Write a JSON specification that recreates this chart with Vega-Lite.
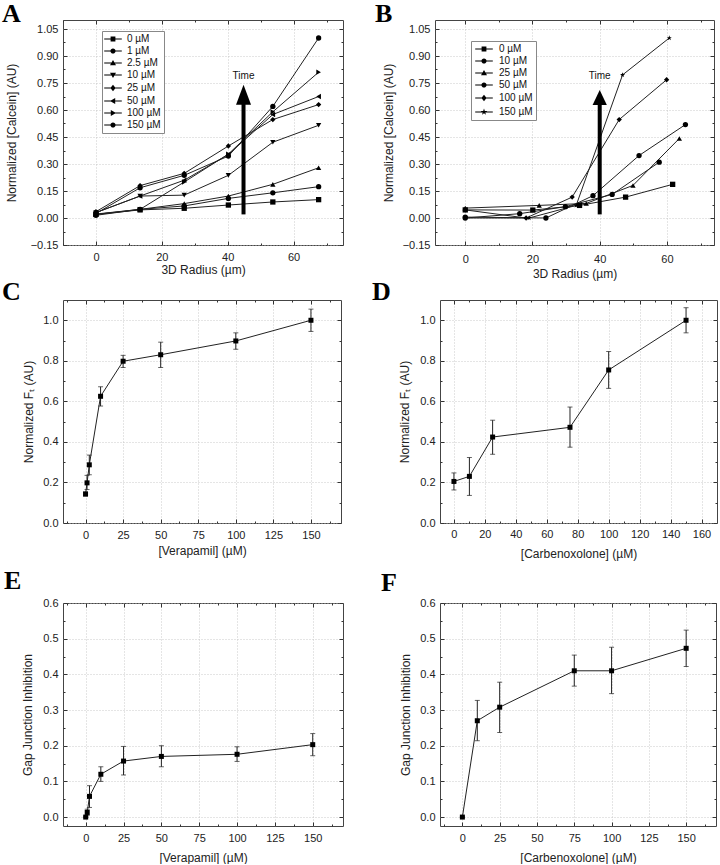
{
"$schema": "https://vega.github.io/schema/vega-lite/v6.json",
"padding": {"left": 1, "top": 0, "right": 2, "bottom": 0},
"background": "white",
"config": {
  "font": "Liberation Sans",
  "view": {"stroke": "#444", "strokeWidth": 1},
  "axis": {"labelFont": "Liberation Sans", "labelFontSize": 11, "labelColor": "#222", "titleFont": "Liberation Sans", "titleFontSize": 12, "titleFontWeight": "normal", "titleColor": "#222", "tickColor": "#333", "tickSize": -4, "tickWidth": 1, "domain": false, "grid": true, "gridColor": "#bdbdbd", "gridDash": [1, 2], "gridWidth": 0.8, "labelFlush": false, "labelOverlap": false, "labelPadding": 9},
  "axisX": {"labelPadding": 10, "titlePadding": 4},
  "axisY": {"titlePadding": 8},
  "legend": {"labelFont": "Liberation Sans", "labelFontSize": 10, "labelColor": "#111", "symbolSize": 64, "symbolStrokeWidth": 1, "symbolStrokeColor": "#000", "symbolFillColor": "#000", "strokeColor": "#888", "fillColor": "#fff", "padding": 3, "rowPadding": 2, "labelOffset": 9, "symbolOffset": 3, "cornerRadius": 0},
  "title": {"font": "Liberation Serif", "fontSize": 26, "fontWeight": "bold", "color": "#000", "anchor": "start", "frame": "group", "baseline": "alphabetic", "offset": 0}
},
"datasets": {
  "A": [
    {"conc": "0 µM", "r": 0, "v": 0.02}, {"conc": "0 µM", "r": 13.4, "v": 0.045}, {"conc": "0 µM", "r": 26.8, "v": 0.054}, {"conc": "0 µM", "r": 40.2, "v": 0.072}, {"conc": "0 µM", "r": 53.7, "v": 0.089}, {"conc": "0 µM", "r": 67.6, "v": 0.102},
    {"conc": "1 µM", "r": 0, "v": 0.015}, {"conc": "1 µM", "r": 13.4, "v": 0.048}, {"conc": "1 µM", "r": 26.8, "v": 0.067}, {"conc": "1 µM", "r": 40.2, "v": 0.109}, {"conc": "1 µM", "r": 53.7, "v": 0.14}, {"conc": "1 µM", "r": 67.6, "v": 0.174},
    {"conc": "2.5 µM", "r": 0, "v": 0.022}, {"conc": "2.5 µM", "r": 13.4, "v": 0.048}, {"conc": "2.5 µM", "r": 26.8, "v": 0.08}, {"conc": "2.5 µM", "r": 40.2, "v": 0.122}, {"conc": "2.5 µM", "r": 53.7, "v": 0.187}, {"conc": "2.5 µM", "r": 67.6, "v": 0.279},
    {"conc": "10 µM", "r": 0, "v": 0.03}, {"conc": "10 µM", "r": 13.4, "v": 0.122}, {"conc": "10 µM", "r": 26.8, "v": 0.127}, {"conc": "10 µM", "r": 40.2, "v": 0.237}, {"conc": "10 µM", "r": 53.7, "v": 0.421}, {"conc": "10 µM", "r": 67.6, "v": 0.515},
    {"conc": "25 µM", "r": 0, "v": 0.035}, {"conc": "25 µM", "r": 13.4, "v": 0.18}, {"conc": "25 µM", "r": 26.8, "v": 0.248}, {"conc": "25 µM", "r": 40.2, "v": 0.4}, {"conc": "25 µM", "r": 53.7, "v": 0.547}, {"conc": "25 µM", "r": 67.6, "v": 0.63},
    {"conc": "50 µM", "r": 0, "v": 0.03}, {"conc": "50 µM", "r": 13.4, "v": 0.122}, {"conc": "50 µM", "r": 26.8, "v": 0.21}, {"conc": "50 µM", "r": 40.2, "v": 0.353}, {"conc": "50 µM", "r": 53.7, "v": 0.575}, {"conc": "50 µM", "r": 67.6, "v": 0.675},
    {"conc": "100 µM", "r": 0, "v": 0.02}, {"conc": "100 µM", "r": 13.4, "v": 0.048}, {"conc": "100 µM", "r": 26.8, "v": 0.2}, {"conc": "100 µM", "r": 40.2, "v": 0.355}, {"conc": "100 µM", "r": 53.7, "v": 0.59}, {"conc": "100 µM", "r": 67.6, "v": 0.81},
    {"conc": "150 µM", "r": 0, "v": 0.025}, {"conc": "150 µM", "r": 13.4, "v": 0.168}, {"conc": "150 µM", "r": 26.8, "v": 0.237}, {"conc": "150 µM", "r": 40.2, "v": 0.344}, {"conc": "150 µM", "r": 53.7, "v": 0.62}, {"conc": "150 µM", "r": 67.6, "v": 1.0}
  ],
  "B": [
    {"conc": "0 µM", "r": 0, "v": 0.045}, {"conc": "0 µM", "r": 20.1, "v": 0.044}, {"conc": "0 µM", "r": 34, "v": 0.07}, {"conc": "0 µM", "r": 47.7, "v": 0.116}, {"conc": "0 µM", "r": 61.7, "v": 0.187},
    {"conc": "10 µM", "r": 0, "v": 0.0}, {"conc": "10 µM", "r": 16.2, "v": 0.024}, {"conc": "10 µM", "r": 29.8, "v": 0.063}, {"conc": "10 µM", "r": 43.7, "v": 0.131}, {"conc": "10 µM", "r": 57.7, "v": 0.31},
    {"conc": "25 µM", "r": 0, "v": 0.055}, {"conc": "25 µM", "r": 22, "v": 0.07}, {"conc": "25 µM", "r": 36, "v": 0.081}, {"conc": "25 µM", "r": 49.9, "v": 0.181}, {"conc": "25 µM", "r": 63.7, "v": 0.442},
    {"conc": "50 µM", "r": 0, "v": 0.005}, {"conc": "50 µM", "r": 24, "v": 0.0}, {"conc": "50 µM", "r": 38, "v": 0.124}, {"conc": "50 µM", "r": 51.7, "v": 0.347}, {"conc": "50 µM", "r": 65.5, "v": 0.519},
    {"conc": "100 µM", "r": 0, "v": 0.045}, {"conc": "100 µM", "r": 18.1, "v": 0.0}, {"conc": "100 µM", "r": 31.8, "v": 0.116}, {"conc": "100 µM", "r": 45.8, "v": 0.547}, {"conc": "100 µM", "r": 59.9, "v": 0.768},
    {"conc": "150 µM", "r": 0, "v": 0.0}, {"conc": "150 µM", "r": 19, "v": 0.0}, {"conc": "150 µM", "r": 33, "v": 0.07}, {"conc": "150 µM", "r": 46.8, "v": 0.795}, {"conc": "150 µM", "r": 60.7, "v": 1.0}
  ],
  "C": [
    {"c": 0, "v": 0.143, "lo": 0.133, "hi": 0.153}, {"c": 1, "v": 0.198, "lo": 0.165, "hi": 0.235}, {"c": 2.5, "v": 0.287, "lo": 0.238, "hi": 0.335}, {"c": 10, "v": 0.625, "lo": 0.577, "hi": 0.672},
    {"c": 25, "v": 0.798, "lo": 0.767, "hi": 0.827}, {"c": 50, "v": 0.83, "lo": 0.767, "hi": 0.892}, {"c": 100, "v": 0.898, "lo": 0.857, "hi": 0.938}, {"c": 150, "v": 1.0, "lo": 0.945, "hi": 1.055}
  ],
  "D": [
    {"c": 0, "v": 0.205, "lo": 0.163, "hi": 0.247}, {"c": 10, "v": 0.23, "lo": 0.136, "hi": 0.323}, {"c": 25, "v": 0.424, "lo": 0.339, "hi": 0.507},
    {"c": 75, "v": 0.472, "lo": 0.374, "hi": 0.572}, {"c": 100, "v": 0.755, "lo": 0.664, "hi": 0.846}, {"c": 150, "v": 1.0, "lo": 0.938, "hi": 1.062}
  ],
  "E": [
    {"c": 0, "v": 0.0, "lo": 0.0, "hi": 0.0}, {"c": 1, "v": 0.013, "lo": 0.005, "hi": 0.022}, {"c": 2.5, "v": 0.058, "lo": 0.027, "hi": 0.088}, {"c": 10, "v": 0.12, "lo": 0.1, "hi": 0.141},
    {"c": 25, "v": 0.157, "lo": 0.118, "hi": 0.198}, {"c": 50, "v": 0.17, "lo": 0.141, "hi": 0.2}, {"c": 100, "v": 0.176, "lo": 0.156, "hi": 0.197}, {"c": 150, "v": 0.203, "lo": 0.172, "hi": 0.234}
  ],
  "F": [
    {"c": 0, "v": 0.0, "lo": 0.0, "hi": 0.0}, {"c": 10, "v": 0.27, "lo": 0.214, "hi": 0.327}, {"c": 25, "v": 0.308, "lo": 0.237, "hi": 0.378},
    {"c": 75, "v": 0.41, "lo": 0.367, "hi": 0.454}, {"c": 100, "v": 0.41, "lo": 0.346, "hi": 0.476}, {"c": 150, "v": 0.473, "lo": 0.422, "hi": 0.524}
  ],
  "arrA": [{"x": 44.8, "y0": 0.02, "y1": 0.64, "yh": 0.685, "yt": 0.787, "label": "Time"}],
  "arrB": [{"x": 40.0, "y0": 0.02, "y1": 0.64, "yh": 0.67, "yt": 0.787, "label": "Time"}]
},
"spacing": -2,
"resolve": {"scale": {"shape": "independent"}, "legend": {"shape": "independent"}},
"vconcat": [
 {"hconcat": [
  {
   "title": {"text": "A", "dx": -61, "offset": -7},
   "width": 280, "height": 225,
   "data": {"name": "A"},
   "resolve": {"axis": {"x": "independent", "y": "independent"}, "scale": {"shape": "independent"}},
   "layer": [
    {"mark": {"type": "line", "color": "#222", "strokeWidth": 1},
     "encoding": {
      "x": {"field": "r", "type": "quantitative", "scale": {"domain": [-10, 75], "nice": false, "zero": false}, "axis": {"title": "3D Radius (µm)", "values": [0, 20, 40, 60], "format": "d", "labelPadding": 10, "titlePadding": 2}},
      "y": {"field": "v", "type": "quantitative", "scale": {"domain": [-0.15, 1.1], "nice": false, "zero": false}, "axis": {"title": "Normalized [Calcein] (AU)", "values": [-0.15, 0, 0.15, 0.3, 0.45, 0.6, 0.75, 0.9, 1.05], "format": ".2f", "titlePadding": 12}},
      "detail": {"field": "conc", "type": "nominal"}}},
    {"mark": {"type": "point", "filled": true, "color": "#000", "size": 28, "opacity": 1},
     "encoding": {
      "x": {"field": "r", "type": "quantitative", "axis": null},
      "y": {"field": "v", "type": "quantitative", "axis": null},
      "shape": {"field": "conc", "type": "nominal", "scale": {"domain": ["0 µM", "1 µM", "2.5 µM", "10 µM", "25 µM", "50 µM", "100 µM", "150 µM"], "range": ["square", "circle", "triangle-up", "triangle-down", "diamond", "triangle-left", "triangle-right", "circle"]}, "legend": null}}},
    {"transform": [{"filter": "false"}],
     "mark": {"type": "point", "filled": true, "fill": "#000", "stroke": "#000", "strokeWidth": 1, "opacity": 1},
     "encoding": {
      "x": {"field": "r", "type": "quantitative", "axis": null},
      "y": {"field": "v", "type": "quantitative", "axis": null},
      "shape": {"field": "conc", "type": "nominal", "scale": {"domain": ["0 µM", "1 µM", "2.5 µM", "10 µM", "25 µM", "50 µM", "100 µM", "150 µM"], "range": [
        "M-2.2,-0.13L2.2,-0.13L2.2,0.13L-2.2,0.13ZM-0.6,-0.6L0.6,-0.6L0.6,0.6L-0.6,0.6Z",
        "M-2.2,-0.13L2.2,-0.13L2.2,0.13L-2.2,0.13ZM-0.65,0A0.65,0.65,0,1,1,0.65,0A0.65,0.65,0,1,1,-0.65,0Z",
        "M-2.2,-0.13L2.2,-0.13L2.2,0.13L-2.2,0.13ZM0,-0.75L0.75,0.55L-0.75,0.55Z",
        "M-2.2,-0.13L2.2,-0.13L2.2,0.13L-2.2,0.13ZM0,0.75L-0.75,-0.55L0.75,-0.55Z",
        "M-2.2,-0.13L2.2,-0.13L2.2,0.13L-2.2,0.13ZM0,-0.8L0.65,0L0,0.8L-0.65,0Z",
        "M-2.2,-0.13L2.2,-0.13L2.2,0.13L-2.2,0.13ZM-0.75,0L0.55,-0.75L0.55,0.75Z",
        "M-2.2,-0.13L2.2,-0.13L2.2,0.13L-2.2,0.13ZM0.75,0L-0.55,0.75L-0.55,-0.75Z",
        "M-2.2,-0.13L2.2,-0.13L2.2,0.13L-2.2,0.13ZM-0.65,0A0.65,0.65,0,1,1,0.65,0A0.65,0.65,0,1,1,-0.65,0Z"]},
       "legend": {"orient": "none", "legendX": 39, "legendY": 11, "title": null, "labelOffset": 9, "symbolOffset": 3}}}},
    {"mark": {"type": "point", "opacity": 0},
     "encoding": {
      "x": {"field": "r", "type": "quantitative", "axis": {"orient": "bottom", "values": [-10, 10, 30, 50, 70], "labels": false, "tickSize": -2, "grid": false, "title": null, "minExtent": 0, "maxExtent": 0}},
      "y": {"field": "v", "type": "quantitative", "axis": {"orient": "left", "values": [-0.075, 0.075, 0.225, 0.375, 0.525, 0.675, 0.825, 0.975], "labels": false, "tickSize": -2, "grid": false, "title": null, "minExtent": 0, "maxExtent": 0}}}},
    {"mark": {"type": "point", "opacity": 0},
     "encoding": {
      "x": {"field": "r", "type": "quantitative", "axis": {"orient": "top", "values": [0, 20, 40, 60], "labels": false, "grid": false, "title": null, "minExtent": 0, "maxExtent": 0}},
      "y": {"field": "v", "type": "quantitative", "axis": {"orient": "right", "values": [-0.15, 0, 0.15, 0.3, 0.45, 0.6, 0.75, 0.9, 1.05], "labels": false, "grid": false, "title": null, "minExtent": 0, "maxExtent": 0}}}},
    {"mark": {"type": "point", "opacity": 0},
     "encoding": {
      "x": {"field": "r", "type": "quantitative", "axis": {"orient": "top", "values": [-10, 10, 30, 50, 70], "labels": false, "tickSize": -2, "grid": false, "title": null, "minExtent": 0, "maxExtent": 0}},
      "y": {"field": "v", "type": "quantitative", "axis": {"orient": "right", "values": [-0.075, 0.075, 0.225, 0.375, 0.525, 0.675, 0.825, 0.975], "labels": false, "tickSize": -2, "grid": false, "title": null, "minExtent": 0, "maxExtent": 0}}}},
    {"data": {"name": "arrA"}, "mark": {"type": "rule", "color": "#000", "strokeWidth": 4},
     "encoding": {"x": {"field": "x", "type": "quantitative", "axis": null}, "y": {"field": "y0", "type": "quantitative", "axis": null}, "y2": {"field": "y1"}}},
    {"data": {"name": "arrA"}, "mark": {"type": "point", "shape": "M-0.75,1L0,-1L0.75,1Z", "size": 400, "filled": true, "color": "#000", "opacity": 1},
     "encoding": {"x": {"field": "x", "type": "quantitative", "axis": null}, "y": {"field": "yh", "type": "quantitative", "axis": null}}},
    {"data": {"name": "arrA"}, "mark": {"type": "text", "font": "Liberation Sans", "fontSize": 10, "color": "#111", "baseline": "middle", "align": "center"},
     "encoding": {"x": {"field": "x", "type": "quantitative", "axis": null}, "y": {"field": "yt", "type": "quantitative", "axis": null}, "text": {"field": "label"}}}
   ]
  },
  {
   "title": {"text": "B", "dx": -60, "offset": -7},
   "width": 279, "height": 225,
   "data": {"name": "B"},
   "resolve": {"axis": {"x": "independent", "y": "independent"}, "scale": {"shape": "independent"}},
   "layer": [
    {"mark": {"type": "line", "color": "#222", "strokeWidth": 1},
     "encoding": {
      "x": {"field": "r", "type": "quantitative", "scale": {"domain": [-9, 74], "nice": false, "zero": false}, "axis": {"title": "3D Radius (µm)", "values": [0, 20, 40, 60], "format": "d", "labelPadding": 12, "titlePadding": 4}},
      "y": {"field": "v", "type": "quantitative", "scale": {"domain": [-0.15, 1.1], "nice": false, "zero": false}, "axis": {"title": "Normalized [Calcein] (AU)", "values": [-0.15, 0, 0.15, 0.3, 0.45, 0.6, 0.75, 0.9, 1.05], "format": ".2f", "titlePadding": 7}},
      "detail": {"field": "conc", "type": "nominal"}}},
    {"mark": {"type": "point", "filled": true, "color": "#000", "size": 28, "opacity": 1},
     "encoding": {
      "x": {"field": "r", "type": "quantitative", "axis": null},
      "y": {"field": "v", "type": "quantitative", "axis": null},
      "shape": {"field": "conc", "type": "nominal", "scale": {"domain": ["0 µM", "10 µM", "25 µM", "50 µM", "100 µM", "150 µM"], "range": ["square", "circle", "triangle-up", "circle", "diamond", "M0,-1L0.235,-0.324L0.951,-0.309L0.38,0.124L0.588,0.809L0,0.4L-0.588,0.809L-0.38,0.124L-0.951,-0.309L-0.235,-0.324Z"]}, "legend": null}}},
    {"transform": [{"filter": "false"}],
     "mark": {"type": "point", "filled": true, "fill": "#000", "stroke": "#000", "strokeWidth": 1, "opacity": 1},
     "encoding": {
      "x": {"field": "r", "type": "quantitative", "axis": null},
      "y": {"field": "v", "type": "quantitative", "axis": null},
      "shape": {"field": "conc", "type": "nominal", "scale": {"domain": ["0 µM", "10 µM", "25 µM", "50 µM", "100 µM", "150 µM"], "range": [
        "M-2.2,-0.13L2.2,-0.13L2.2,0.13L-2.2,0.13ZM-0.6,-0.6L0.6,-0.6L0.6,0.6L-0.6,0.6Z",
        "M-2.2,-0.13L2.2,-0.13L2.2,0.13L-2.2,0.13ZM-0.65,0A0.65,0.65,0,1,1,0.65,0A0.65,0.65,0,1,1,-0.65,0Z",
        "M-2.2,-0.13L2.2,-0.13L2.2,0.13L-2.2,0.13ZM0,-0.75L0.75,0.55L-0.75,0.55Z",
        "M-2.2,-0.13L2.2,-0.13L2.2,0.13L-2.2,0.13ZM-0.65,0A0.65,0.65,0,1,1,0.65,0A0.65,0.65,0,1,1,-0.65,0Z",
        "M-2.2,-0.13L2.2,-0.13L2.2,0.13L-2.2,0.13ZM0,-0.8L0.65,0L0,0.8L-0.65,0Z",
        "M-2.2,-0.13L2.2,-0.13L2.2,0.13L-2.2,0.13ZM0,-0.85L0.2,-0.28L0.81,-0.26L0.32,0.11L0.5,0.69L0,0.34L-0.5,0.69L-0.32,0.11L-0.81,-0.26L-0.2,-0.28Z"]},
       "legend": {"orient": "none", "legendX": 36, "legendY": 21, "title": null, "labelOffset": 10, "symbolOffset": 5}}}},
    {"mark": {"type": "point", "opacity": 0},
     "encoding": {
      "x": {"field": "r", "type": "quantitative", "axis": {"orient": "bottom", "values": [10, 30, 50, 70], "labels": false, "tickSize": -2, "grid": false, "title": null, "minExtent": 0, "maxExtent": 0}},
      "y": {"field": "v", "type": "quantitative", "axis": {"orient": "left", "values": [-0.075, 0.075, 0.225, 0.375, 0.525, 0.675, 0.825, 0.975], "labels": false, "tickSize": -2, "grid": false, "title": null, "minExtent": 0, "maxExtent": 0}}}},
    {"mark": {"type": "point", "opacity": 0},
     "encoding": {
      "x": {"field": "r", "type": "quantitative", "axis": {"orient": "top", "values": [0, 20, 40, 60], "labels": false, "grid": false, "title": null, "minExtent": 0, "maxExtent": 0}},
      "y": {"field": "v", "type": "quantitative", "axis": {"orient": "right", "values": [-0.15, 0, 0.15, 0.3, 0.45, 0.6, 0.75, 0.9, 1.05], "labels": false, "grid": false, "title": null, "minExtent": 0, "maxExtent": 0}}}},
    {"mark": {"type": "point", "opacity": 0},
     "encoding": {
      "x": {"field": "r", "type": "quantitative", "axis": {"orient": "top", "values": [10, 30, 50, 70], "labels": false, "tickSize": -2, "grid": false, "title": null, "minExtent": 0, "maxExtent": 0}},
      "y": {"field": "v", "type": "quantitative", "axis": {"orient": "right", "values": [-0.075, 0.075, 0.225, 0.375, 0.525, 0.675, 0.825, 0.975], "labels": false, "tickSize": -2, "grid": false, "title": null, "minExtent": 0, "maxExtent": 0}}}},
    {"data": {"name": "arrB"}, "mark": {"type": "rule", "color": "#000", "strokeWidth": 4},
     "encoding": {"x": {"field": "x", "type": "quantitative", "axis": null}, "y": {"field": "y0", "type": "quantitative", "axis": null}, "y2": {"field": "y1"}}},
    {"data": {"name": "arrB"}, "mark": {"type": "point", "shape": "M-0.95,1L0,-1L0.95,1Z", "size": 225, "filled": true, "color": "#000", "opacity": 1},
     "encoding": {"x": {"field": "x", "type": "quantitative", "axis": null}, "y": {"field": "yh", "type": "quantitative", "axis": null}}},
    {"data": {"name": "arrB"}, "mark": {"type": "text", "font": "Liberation Sans", "fontSize": 10, "color": "#111", "baseline": "middle", "align": "center"},
     "encoding": {"x": {"field": "x", "type": "quantitative", "axis": null}, "y": {"field": "yt", "type": "quantitative", "axis": null}, "text": {"field": "label"}}}
   ]
  }
 ], "spacing": 30, "resolve": {"scale": {"shape": "independent"}, "legend": {"shape": "independent"}}},
 {"hconcat": [
  {
   "title": {"text": "C", "dx": -61, "offset": -5},
   "width": 278, "height": 223,
   "data": {"name": "C"},
   "resolve": {"axis": {"x": "independent", "y": "independent"}},
   "layer": [
    {"mark": {"type": "line", "color": "#222", "strokeWidth": 1},
     "encoding": {
      "x": {"field": "c", "type": "quantitative", "scale": {"domain": [-15, 170], "nice": false, "zero": false}, "axis": {"title": ["[Verapamil] (µM)", ""], "titleLineHeight": 9, "values": [0, 25, 50, 75, 100, 125, 150], "format": "d", "labelPadding": 10, "titlePadding": 5}},
      "y": {"field": "v", "type": "quantitative", "scale": {"domain": [0, 1.1], "nice": false, "zero": false}, "axis": {"title": "Normalized Fₜ (AU)", "values": [0, 0.2, 0.4, 0.6, 0.8, 1.0], "format": ".1f", "titlePadding": 7}}}},
    {"mark": {"type": "errorbar", "color": "#222", "thickness": 1, "ticks": {"size": 5, "thickness": 1}},
     "encoding": {"x": {"field": "c", "type": "quantitative", "axis": null}, "y": {"field": "lo", "type": "quantitative", "axis": null}, "y2": {"field": "hi"}}},
    {"mark": {"type": "square", "color": "#000", "size": 25, "opacity": 1},
     "encoding": {"x": {"field": "c", "type": "quantitative", "axis": null}, "y": {"field": "v", "type": "quantitative", "axis": null}}},
    {"mark": {"type": "point", "opacity": 0},
     "encoding": {
      "x": {"field": "c", "type": "quantitative", "axis": {"orient": "bottom", "values": [-12.5, 12.5, 37.5, 62.5, 87.5, 112.5, 137.5, 162.5], "labels": false, "tickSize": -2, "grid": false, "title": null, "minExtent": 0, "maxExtent": 0}},
      "y": {"field": "v", "type": "quantitative", "axis": {"orient": "left", "values": [0.1, 0.3, 0.5, 0.7, 0.9], "labels": false, "tickSize": -2, "grid": false, "title": null, "minExtent": 0, "maxExtent": 0}}}},
    {"mark": {"type": "point", "opacity": 0},
     "encoding": {
      "x": {"field": "c", "type": "quantitative", "axis": {"orient": "top", "values": [0, 25, 50, 75, 100, 125, 150], "labels": false, "grid": false, "title": null, "minExtent": 0, "maxExtent": 0}},
      "y": {"field": "v", "type": "quantitative", "axis": {"orient": "right", "values": [0, 0.2, 0.4, 0.6, 0.8, 1.0], "labels": false, "grid": false, "title": null, "minExtent": 0, "maxExtent": 0}}}},
    {"mark": {"type": "point", "opacity": 0},
     "encoding": {
      "x": {"field": "c", "type": "quantitative", "axis": {"orient": "top", "values": [-12.5, 12.5, 37.5, 62.5, 87.5, 112.5, 137.5, 162.5], "labels": false, "tickSize": -2, "grid": false, "title": null, "minExtent": 0, "maxExtent": 0}},
      "y": {"field": "v", "type": "quantitative", "axis": {"orient": "right", "values": [0.1, 0.3, 0.5, 0.7, 0.9], "labels": false, "tickSize": -2, "grid": false, "title": null, "minExtent": 0, "maxExtent": 0}}}}
   ]
  },
  {
   "title": {"text": "D", "dx": -68, "offset": -5},
   "width": 277, "height": 223,
   "data": {"name": "D"},
   "resolve": {"axis": {"x": "independent", "y": "independent"}},
   "layer": [
    {"mark": {"type": "line", "color": "#222", "strokeWidth": 1},
     "encoding": {
      "x": {"field": "c", "type": "quantitative", "scale": {"domain": [-9, 170], "nice": false, "zero": false}, "axis": {"title": ["[Carbenoxolone] (µM)", ""], "titleLineHeight": 9, "values": [0, 20, 40, 60, 80, 100, 120, 140, 160], "format": "d", "labelPadding": 9, "titlePadding": 9}},
      "y": {"field": "v", "type": "quantitative", "scale": {"domain": [0, 1.1], "nice": false, "zero": false}, "axis": {"title": "Normalized Fₜ (AU)", "values": [0, 0.2, 0.4, 0.6, 0.8, 1.0], "format": ".1f", "titlePadding": 8}}}},
    {"mark": {"type": "errorbar", "color": "#222", "thickness": 1, "ticks": {"size": 5, "thickness": 1}},
     "encoding": {"x": {"field": "c", "type": "quantitative", "axis": null}, "y": {"field": "lo", "type": "quantitative", "axis": null}, "y2": {"field": "hi"}}},
    {"mark": {"type": "square", "color": "#000", "size": 25, "opacity": 1},
     "encoding": {"x": {"field": "c", "type": "quantitative", "axis": null}, "y": {"field": "v", "type": "quantitative", "axis": null}}},
    {"mark": {"type": "point", "opacity": 0},
     "encoding": {
      "x": {"field": "c", "type": "quantitative", "axis": {"orient": "bottom", "values": [10, 30, 50, 70, 90, 110, 130, 150], "labels": false, "tickSize": -2, "grid": false, "title": null, "minExtent": 0, "maxExtent": 0}},
      "y": {"field": "v", "type": "quantitative", "axis": {"orient": "left", "values": [0.1, 0.3, 0.5, 0.7, 0.9], "labels": false, "tickSize": -2, "grid": false, "title": null, "minExtent": 0, "maxExtent": 0}}}},
    {"mark": {"type": "point", "opacity": 0},
     "encoding": {
      "x": {"field": "c", "type": "quantitative", "axis": {"orient": "top", "values": [0, 20, 40, 60, 80, 100, 120, 140, 160], "labels": false, "grid": false, "title": null, "minExtent": 0, "maxExtent": 0}},
      "y": {"field": "v", "type": "quantitative", "axis": {"orient": "right", "values": [0, 0.2, 0.4, 0.6, 0.8, 1.0], "labels": false, "grid": false, "title": null, "minExtent": 0, "maxExtent": 0}}}},
    {"mark": {"type": "point", "opacity": 0},
     "encoding": {
      "x": {"field": "c", "type": "quantitative", "axis": {"orient": "top", "values": [10, 30, 50, 70, 90, 110, 130, 150], "labels": false, "tickSize": -2, "grid": false, "title": null, "minExtent": 0, "maxExtent": 0}},
      "y": {"field": "v", "type": "quantitative", "axis": {"orient": "right", "values": [0.1, 0.3, 0.5, 0.7, 0.9], "labels": false, "tickSize": -2, "grid": false, "title": null, "minExtent": 0, "maxExtent": 0}}}}
   ]
  }
 ], "spacing": 29},
 {"hconcat": [
  {
   "title": {"text": "E", "dx": -59, "offset": 3},
   "width": 280, "height": 223,
   "data": {"name": "E"},
   "resolve": {"axis": {"x": "independent", "y": "independent"}},
   "layer": [
    {"mark": {"type": "line", "color": "#222", "strokeWidth": 1},
     "encoding": {
      "x": {"field": "c", "type": "quantitative", "scale": {"domain": [-15, 170], "nice": false, "zero": false}, "axis": {"title": "[Verapamil] (µM)", "values": [0, 25, 50, 75, 100, 125, 150], "format": "d", "labelPadding": 10, "titlePadding": 9}},
      "y": {"field": "v", "type": "quantitative", "scale": {"domain": [-0.025, 0.6], "nice": false, "zero": false}, "axis": {"title": "Gap Junction Inhibition", "values": [0, 0.1, 0.2, 0.3, 0.4, 0.5, 0.6], "format": ".1f", "titlePadding": 8}}}},
    {"mark": {"type": "errorbar", "color": "#222", "thickness": 1, "ticks": {"size": 5, "thickness": 1}},
     "encoding": {"x": {"field": "c", "type": "quantitative", "axis": null}, "y": {"field": "lo", "type": "quantitative", "axis": null}, "y2": {"field": "hi"}}},
    {"mark": {"type": "square", "color": "#000", "size": 25, "opacity": 1},
     "encoding": {"x": {"field": "c", "type": "quantitative", "axis": null}, "y": {"field": "v", "type": "quantitative", "axis": null}}},
    {"mark": {"type": "point", "opacity": 0},
     "encoding": {
      "x": {"field": "c", "type": "quantitative", "axis": {"orient": "bottom", "values": [-12.5, 12.5, 37.5, 62.5, 87.5, 112.5, 137.5, 162.5], "labels": false, "tickSize": -2, "grid": false, "title": null, "minExtent": 0, "maxExtent": 0}},
      "y": {"field": "v", "type": "quantitative", "axis": {"orient": "left", "values": [0.05, 0.15, 0.25, 0.35, 0.45, 0.55], "labels": false, "tickSize": -2, "grid": false, "title": null, "minExtent": 0, "maxExtent": 0}}}},
    {"mark": {"type": "point", "opacity": 0},
     "encoding": {
      "x": {"field": "c", "type": "quantitative", "axis": {"orient": "top", "values": [0, 25, 50, 75, 100, 125, 150], "labels": false, "grid": false, "title": null, "minExtent": 0, "maxExtent": 0}},
      "y": {"field": "v", "type": "quantitative", "axis": {"orient": "right", "values": [0, 0.1, 0.2, 0.3, 0.4, 0.5, 0.6], "labels": false, "grid": false, "title": null, "minExtent": 0, "maxExtent": 0}}}},
    {"mark": {"type": "point", "opacity": 0},
     "encoding": {
      "x": {"field": "c", "type": "quantitative", "axis": {"orient": "top", "values": [-12.5, 12.5, 37.5, 62.5, 87.5, 112.5, 137.5, 162.5], "labels": false, "tickSize": -2, "grid": false, "title": null, "minExtent": 0, "maxExtent": 0}},
      "y": {"field": "v", "type": "quantitative", "axis": {"orient": "right", "values": [0.05, 0.15, 0.25, 0.35, 0.45, 0.55], "labels": false, "tickSize": -2, "grid": false, "title": null, "minExtent": 0, "maxExtent": 0}}}}
   ]
  },
  {
   "title": {"text": "F", "dx": -59, "offset": 1},
   "width": 276, "height": 223,
   "data": {"name": "F"},
   "resolve": {"axis": {"x": "independent", "y": "independent"}},
   "layer": [
    {"mark": {"type": "line", "color": "#222", "strokeWidth": 1},
     "encoding": {
      "x": {"field": "c", "type": "quantitative", "scale": {"domain": [-15, 170], "nice": false, "zero": false}, "axis": {"title": "[Carbenoxolone] (µM)", "values": [0, 25, 50, 75, 100, 125, 150], "format": "d", "labelPadding": 10, "titlePadding": 9}},
      "y": {"field": "v", "type": "quantitative", "scale": {"domain": [-0.025, 0.6], "nice": false, "zero": false}, "axis": {"title": "Gap Junction Inhibition", "values": [0, 0.1, 0.2, 0.3, 0.4, 0.5, 0.6], "format": ".1f", "titlePadding": 7}}}},
    {"mark": {"type": "errorbar", "color": "#222", "thickness": 1, "ticks": {"size": 5, "thickness": 1}},
     "encoding": {"x": {"field": "c", "type": "quantitative", "axis": null}, "y": {"field": "lo", "type": "quantitative", "axis": null}, "y2": {"field": "hi"}}},
    {"mark": {"type": "square", "color": "#000", "size": 25, "opacity": 1},
     "encoding": {"x": {"field": "c", "type": "quantitative", "axis": null}, "y": {"field": "v", "type": "quantitative", "axis": null}}},
    {"mark": {"type": "point", "opacity": 0},
     "encoding": {
      "x": {"field": "c", "type": "quantitative", "axis": {"orient": "bottom", "values": [-12.5, 12.5, 37.5, 62.5, 87.5, 112.5, 137.5, 162.5], "labels": false, "tickSize": -2, "grid": false, "title": null, "minExtent": 0, "maxExtent": 0}},
      "y": {"field": "v", "type": "quantitative", "axis": {"orient": "left", "values": [0.05, 0.15, 0.25, 0.35, 0.45, 0.55], "labels": false, "tickSize": -2, "grid": false, "title": null, "minExtent": 0, "maxExtent": 0}}}},
    {"mark": {"type": "point", "opacity": 0},
     "encoding": {
      "x": {"field": "c", "type": "quantitative", "axis": {"orient": "top", "values": [0, 25, 50, 75, 100, 125, 150], "labels": false, "grid": false, "title": null, "minExtent": 0, "maxExtent": 0}},
      "y": {"field": "v", "type": "quantitative", "axis": {"orient": "right", "values": [0, 0.1, 0.2, 0.3, 0.4, 0.5, 0.6], "labels": false, "grid": false, "title": null, "minExtent": 0, "maxExtent": 0}}}},
    {"mark": {"type": "point", "opacity": 0},
     "encoding": {
      "x": {"field": "c", "type": "quantitative", "axis": {"orient": "top", "values": [-12.5, 12.5, 37.5, 62.5, 87.5, 112.5, 137.5, 162.5], "labels": false, "tickSize": -2, "grid": false, "title": null, "minExtent": 0, "maxExtent": 0}},
      "y": {"field": "v", "type": "quantitative", "axis": {"orient": "right", "values": [0.05, 0.15, 0.25, 0.35, 0.45, 0.55], "labels": false, "tickSize": -2, "grid": false, "title": null, "minExtent": 0, "maxExtent": 0}}}}
   ]
  }
 ], "spacing": 36}
]
}
